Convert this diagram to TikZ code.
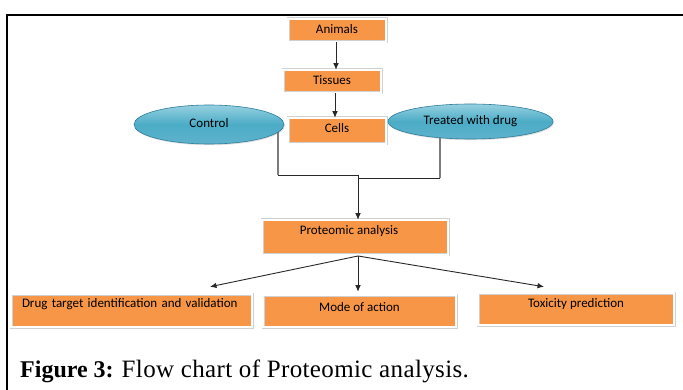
\documentclass[tikz,border=0pt]{standalone}
\usepackage{fontspec}
\setmainfont{Liberation Serif}
\newfontfamily\boxfont{Carlito}
\usetikzlibrary{shapes.geometric,arrows.meta,shadows,backgrounds,calc}
\definecolor{boxorange}{RGB}{247,150,70}
\definecolor{ellmid}{RGB}{75,172,198}
\definecolor{elltop}{RGB}{150,208,224}
\definecolor{ellbot}{RGB}{95,178,204}
\definecolor{elledge}{RGB}{45,125,155}
\definecolor{linedark}{RGB}{40,40,40}
\definecolor{linegray}{RGB}{125,125,125}
\tikzset{
  obox/.style={rectangle, fill=boxorange, draw=black!18, line width=0.5pt,
    double=white, double distance=2pt,
    drop shadow={opacity=0.4, shadow xshift=1.3pt, shadow yshift=-1.3pt},
    inner ysep=0pt, inner xsep=4pt, text=black,
    font=\boxfont\fontsize{13}{15}\selectfont},
  ell/.style={ellipse, inner sep=0pt, top color=elltop, bottom color=ellbot,
    middle color=ellmid, draw=elledge, line width=0.6pt,
    drop shadow={opacity=0.25, shadow xshift=0.8pt, shadow yshift=-1.2pt},
    text=black, font=\boxfont\fontsize{13}{15}\selectfont},
  arr/.style={draw=linedark, line width=0.9pt, -{Latex[length=6.5pt,width=5.5pt]}},
  hline/.style={draw=linedark, line width=0.9pt},
  vline/.style={draw=linegray, line width=1.3pt},
  frameline/.style={draw=black, line width=2pt}
}
\begin{document}
\begin{tikzpicture}[x=1pt,y=-1pt]
\useasboundingbox (0,0) rectangle (683,390);

% boxes
\node[obox, minimum width=98pt, text height=15pt, text depth=8pt] (animals) at (337,30.5) {Animals};
\node[obox, minimum width=98pt, text height=15pt, text depth=8pt] (tissues) at (332,81.5) {Tissues};
\node[obox, minimum width=98pt, text height=15pt, text depth=11pt] (cells) at (337,131) {Cells};
\node[ell, minimum width=150pt, minimum height=39pt] (control) at (209,124.5) {\raisebox{3pt}{Control}};
\node[ell, minimum width=165pt, minimum height=35pt] (treated) at (470.5,121.5) {\raisebox{2pt}{Treated with drug}};
\node[obox, minimum width=186pt, text height=15pt, text depth=20pt] (prot) at (355,237.5) {\hspace*{-12pt}Proteomic analysis};
\node[obox, inner xsep=11pt, text width=219pt, align=left, text height=14pt, text depth=19pt] (drug) at (131.5,310.5) {Drug target identification and validation};
\node[obox, minimum width=193pt, text height=16pt, text depth=16pt] (mode) at (359.5,311) {Mode of action};
\node[obox, minimum width=196pt, text height=15pt, text depth=17pt] (tox) at (576,309) {Toxicity prediction};

% connector coordinates
\coordinate (cl) at (278,175);
\coordinate (jn) at (358,175);
\coordinate (tr) at (440,178);
\coordinate (jn2) at (358,178);
\coordinate (ps) at (358,256);
\coordinate (tipd) at ($(drug.north)+(78.5,-7)$);
\coordinate (tipm) at ($(mode.north)+(-1.5,-3)$);
\coordinate (tipt) at ($(tox.north)+(-32,-6)$);

\begin{pgfonlayer}{background}
\fill[white] (0,0) rectangle (683,390);
\draw[vline] (control.center -| cl) -- (cl);
\draw[vline] (treated.center -| tr) -- (tr);
\end{pgfonlayer}
\draw[frameline] (7,390) -- (7,15) -- (683,15);
\draw[hline] (cl) -- (jn);
\draw[hline] (tr) -- (jn2);
\draw[arr] (jn) -- (jn |- prot.north);
\draw[arr] ($(animals.south)+(-1,0)$) -- ($(animals.south |- tissues.north)+(-1,0)$);
\draw[arr] ($(tissues.south)+(3,0)$) -- ($(tissues.south |- cells.north)+(3,0)$);
\draw[arr] (ps) -- (tipd);
\draw[arr] (ps) -- (tipm);
\draw[arr] (ps) -- (tipt);

% caption
\node[anchor=base west, inner sep=0pt] (cap) at (20,377) {\fontsize{24}{28}\selectfont\textbf{Figure 3:} {\fontsize{25}{28}\selectfont\addfontfeature{LetterSpace=1.5}Flow chart of Proteomic analysis.}};
\end{tikzpicture}
\end{document}
